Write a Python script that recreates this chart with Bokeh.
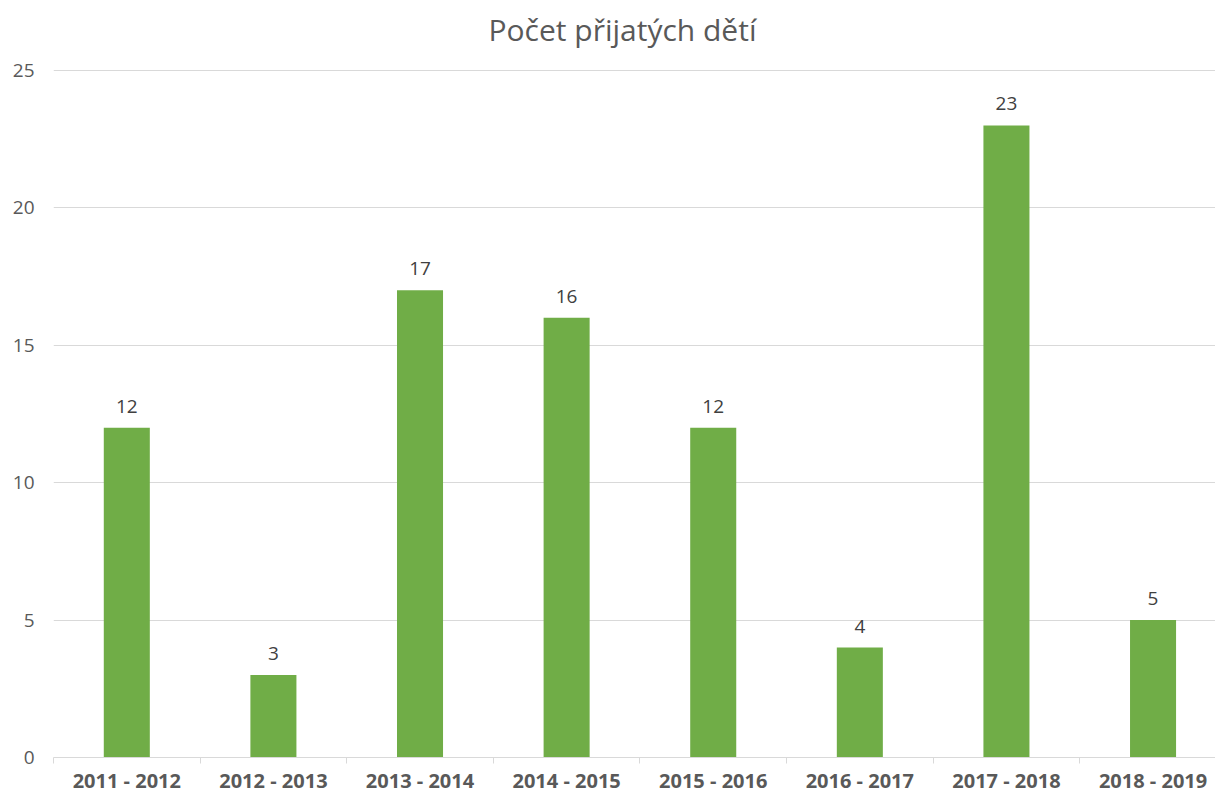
from bokeh.plotting import figure
from bokeh.models import ColumnDataSource, FixedTicker, LabelSet, Range1d
from bokeh.core.properties import value
from bokeh.embed import file_html
from bokeh.resources import INLINE

title_text = "Počet přijatých dětí"
categories = ["2011 - 2012", "2012 - 2013", "2013 - 2014", "2014 - 2015",
              "2015 - 2016", "2016 - 2017", "2017 - 2018", "2018 - 2019"]
values = [12, 3, 17, 16, 12, 4, 23, 5]
y_ticks = [0, 5, 10, 15, 20, 25]

centers = [i + 0.5 for i in range(len(categories))]
bounds = list(range(len(categories) + 1))

src = ColumnDataSource(dict(x=centers, top=values, lab=[str(v) for v in values]))

FONT = "Open Sans"
p = figure(width=1215, height=796, output_backend="svg", toolbar_location=None,
           x_range=Range1d(0, 7.926), y_range=Range1d(0, 25.582),
           title=title_text,
           min_border_left=53, min_border_right=0, min_border_top=54, min_border_bottom=39)
p.outline_line_color = None
p.background_fill_color = "white"

p.title.align = "left"
p.title.offset = 435
p.title.standoff = 10
p.title.text_font = FONT
p.title.text_font_style = "normal"
p.title.text_font_size = "30px"
p.title.text_color = "#595959"

p.vbar(x="x", top="top", width=0.314, bottom=0, source=src,
       fill_color="#70AD47", line_color=None)

labels = LabelSet(x="x", y="top", text="lab", source=src, text_align="center",
                  text_baseline="alphabetic", y_offset=15,
                  text_font=value(FONT), text_font_size=value("19px"),
                  text_color="#404040")
p.add_layout(labels)

# x axis
xa = p.xaxis[0]
xa.ticker = FixedTicker(ticks=centers, minor_ticks=bounds)
xa.major_label_overrides = {c: lab for c, lab in zip(centers, categories)}
xa.major_tick_line_color = None
xa.major_tick_out = 0
xa.major_tick_in = 0
xa.minor_tick_line_color = "#d9d9d9"
xa.minor_tick_out = 6
xa.minor_tick_in = 0
xa.axis_line_color = "#d9d9d9"
xa.major_label_text_font = FONT
xa.major_label_text_font_style = "bold"
xa.major_label_text_font_size = "20px"
xa.major_label_text_color = "#595959"
xa.major_label_standoff = 3

# y axis
ya = p.yaxis[0]
ya.ticker = FixedTicker(ticks=y_ticks)
ya.axis_line_color = None
ya.major_tick_line_color = None
ya.major_tick_out = 0
ya.major_tick_in = 0
ya.minor_tick_line_color = None
ya.major_label_text_font = FONT
ya.major_label_text_font_size = "19px"
ya.major_label_text_color = "#595959"
ya.major_label_standoff = 19

p.xgrid.grid_line_color = None
p.ygrid.grid_line_color = "#d9d9d9"
p.ygrid.ticker = FixedTicker(ticks=y_ticks)

open("out.html", "w").write(file_html(p, INLINE))
